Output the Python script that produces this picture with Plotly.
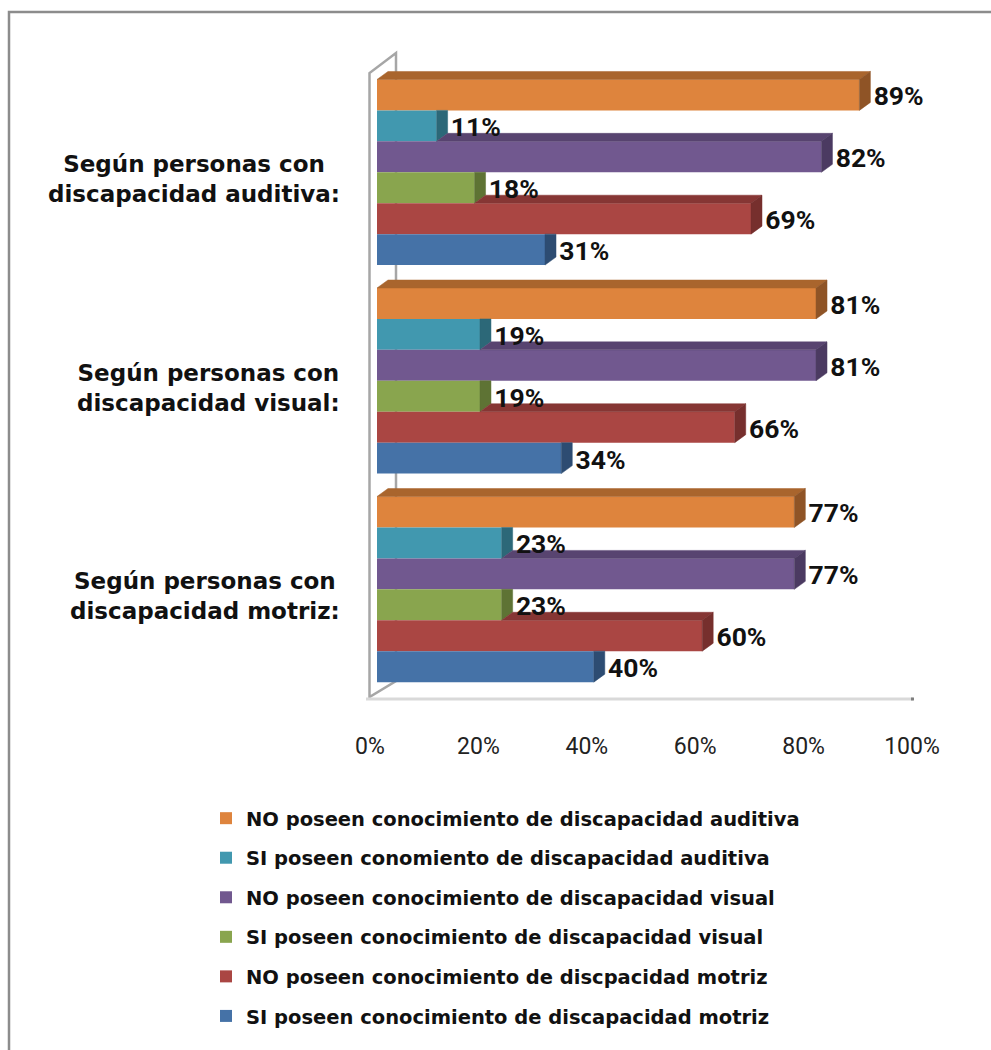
import plotly.graph_objects as go

# ---- data -------------------------------------------------------------
categories = [
    "Según personas con<br>discapacidad auditiva:",
    "Según personas con<br>discapacidad visual:",
    "Según personas con<br>discapacidad motriz:",
]

# series listed in the order they are stacked inside each group (top first)
series_names = [
    "NO poseen conocimiento de discapacidad auditiva",
    "SI poseen conomiento de discapacidad auditiva",
    "NO poseen conocimiento de discapacidad visual",
    "SI poseen conocimiento de discapacidad visual",
    "NO poseen conocimiento de discpacidad motriz",
    "SI poseen conocimiento de discapacidad motriz",
]

# percentages per category (auditiva, visual, motriz)
no_auditiva = [89, 81, 77]
si_auditiva = [11, 19, 23]
no_visual = [82, 81, 77]
si_visual = [18, 19, 23]
no_motriz = [69, 66, 60]
si_motriz = [31, 34, 40]
series_values = [no_auditiva, si_auditiva, no_visual, si_visual, no_motriz, si_motriz]

tick_values = [0, 20, 40, 60, 80, 100]
tick_labels = ["0%", "20%", "40%", "60%", "80%", "100%"]

# ---- styling ----------------------------------------------------------
front_colors = ["#DE843D", "#4198AF", "#71588F", "#89A54E", "#AA4643", "#4572A7"]
top_colors = ["#A9652D", "#307486", "#584470", "#69803A", "#863634", "#345882"]
side_colors = ["#8F5426", "#2C6878", "#4B3A61", "#5E7334", "#762F2D", "#2D4C72"]

W, H = 991, 1050
PX_LEFT, PX_RIGHT = 377, 919      # plot area (front plane of the bars)
PX_TOP, PX_BOTTOM = 68, 693.6

def px(x):
    return x / W

def py(y):
    return 1 - y / H

y_centres = [2, 1, 0]           # category positions, top group first
group_width = 0.89
n_series = len(series_names)
bar_h = group_width / n_series

px_per_x = (PX_RIGHT - PX_LEFT) / 100.0
px_per_y = (PX_BOTTOM - PX_TOP) / 3.0
DX = 11 / px_per_x               # depth of the 3-D bars along x (data units)
DY = 8 / px_per_y                # depth of the 3-D bars along y (data units)

fig = go.Figure()

# front faces of the bars
for s, (name, vals) in enumerate(zip(series_names, series_values)):
    fig.add_trace(go.Bar(
        x=vals, y=y_centres, orientation="h",
        name=name, legendgroup=name,
        width=bar_h, offset=group_width / 2 - (s + 1) * bar_h,
        marker=dict(color=front_colors[s], line=dict(width=0)),
        hoverinfo="skip",
    ))

# top and side faces (only the parts not hidden by the bar above)
for s, (name, vals) in enumerate(zip(series_names, series_values)):
    tx, ty, sx, sy = [], [], [], []
    for c, v in enumerate(vals):
        yb = y_centres[c] + group_width / 2 - (s + 1) * bar_h
        yt = yb + bar_h
        va = series_values[s - 1][c] if s > 0 else 0
        if v > va:
            tx += [va, v, v + DX, va + DX, va, None]
            ty += [yt, yt, yt + DY, yt + DY, yt, None]
            sx += [v, v, v + DX, v + DX, v, None]
            sy += [yb, yt, yt + DY, yb + DY, yb, None]
        else:
            sx += [v, v, v + DX, v + DX, v, None]
            sy += [yb, yt, yt, yb + DY, yb, None]
    fig.add_trace(go.Scatter(
        x=tx, y=ty, mode="lines", fill="toself", fillcolor=top_colors[s],
        line=dict(width=0.5, color=top_colors[s]), legendgroup=name,
        showlegend=False, hoverinfo="skip", cliponaxis=False,
    ))
    fig.add_trace(go.Scatter(
        x=sx, y=sy, mode="lines", fill="toself", fillcolor=side_colors[s],
        line=dict(width=0.5, color=side_colors[s]), legendgroup=name,
        showlegend=False, hoverinfo="skip", cliponaxis=False,
    ))

# value labels
for s, (name, vals) in enumerate(zip(series_names, series_values)):
    ys = [y_centres[c] + group_width / 2 - (s + 0.5) * bar_h - 0.018 for c in range(len(vals))]
    fig.add_trace(go.Scatter(
        x=[v + DX + 0.6 for v in vals], y=ys, mode="text",
        text=[f"{v}%" for v in vals], textposition="middle right",
        textfont=dict(family="Roboto", size=26.5, color="#111111", weight="bold"),
        legendgroup=name, showlegend=False, hoverinfo="skip", cliponaxis=False,
    ))

# category labels
for c, cat in enumerate(categories):
    fig.add_annotation(
        x=px(342), xref="paper", y=y_centres[c], yref="y", yshift=-7,
        text=cat, showarrow=False, xanchor="right", yanchor="middle", align="center",
        font=dict(family="DejaVu Sans", size=23, color="#111111", weight="bold"),
    )

shapes = [
    # chart frame
    dict(type="rect", xref="paper", yref="paper",
         x0=px(9), y0=py(12), x1=px(1010), y1=py(1070),
         line=dict(color="#8C8C8C", width=2.5), fillcolor="rgba(0,0,0,0)", layer="below"),
    # side wall
    dict(type="path", xref="paper", yref="paper", layer="below",
         path=f"M {px(369.5)},{py(697)} L {px(369.5)},{py(73)} L {px(396)},{py(53)} "
              f"L {px(396)},{py(681)} Z",
         line=dict(color="#A6A6A6", width=2.5)),
    # floor
    dict(type="line", xref="paper", yref="paper", layer="below",
         x0=px(366), y0=py(699), x1=px(913), y1=py(699),
         line=dict(color="#D9D9D9", width=3)),
    dict(type="rect", xref="paper", yref="paper", layer="below",
         x0=px(911), y0=py(697.5), x1=px(914), y1=py(700.5),
         line=dict(width=0), fillcolor="#7F7F7F"),
]

fig.update_layout(
    width=W, height=H, autosize=False,
    margin=dict(l=0, r=0, t=0, b=0, autoexpand=False),
    paper_bgcolor="white", plot_bgcolor="rgba(0,0,0,0)",
    barmode="overlay",
    showlegend=True,
    shapes=shapes,
    xaxis=dict(
        domain=[px(PX_LEFT), px(PX_RIGHT)], range=[0, 100],
        tickvals=tick_values, ticktext=tick_labels,
        ticklabelshift=-7, ticklabelstandoff=36,
        tickfont=dict(family="Roboto", size=23, color="#222222"),
        showgrid=False, zeroline=False, showline=False, ticks="",
        fixedrange=True,
    ),
    yaxis=dict(
        domain=[py(PX_BOTTOM), py(PX_TOP)], range=[-0.5, 2.5],
        visible=False, fixedrange=True,
    ),
    legend=dict(
        x=px(206), y=py(799), xanchor="left", yanchor="top",
        orientation="v", traceorder="grouped", tracegroupgap=11.2,
        font=dict(family="DejaVu Sans", size=19.5, color="#111111", weight="bold"),
        bgcolor="rgba(0,0,0,0)", itemwidth=30,
    ),
)

fig.write_html("out.html")
